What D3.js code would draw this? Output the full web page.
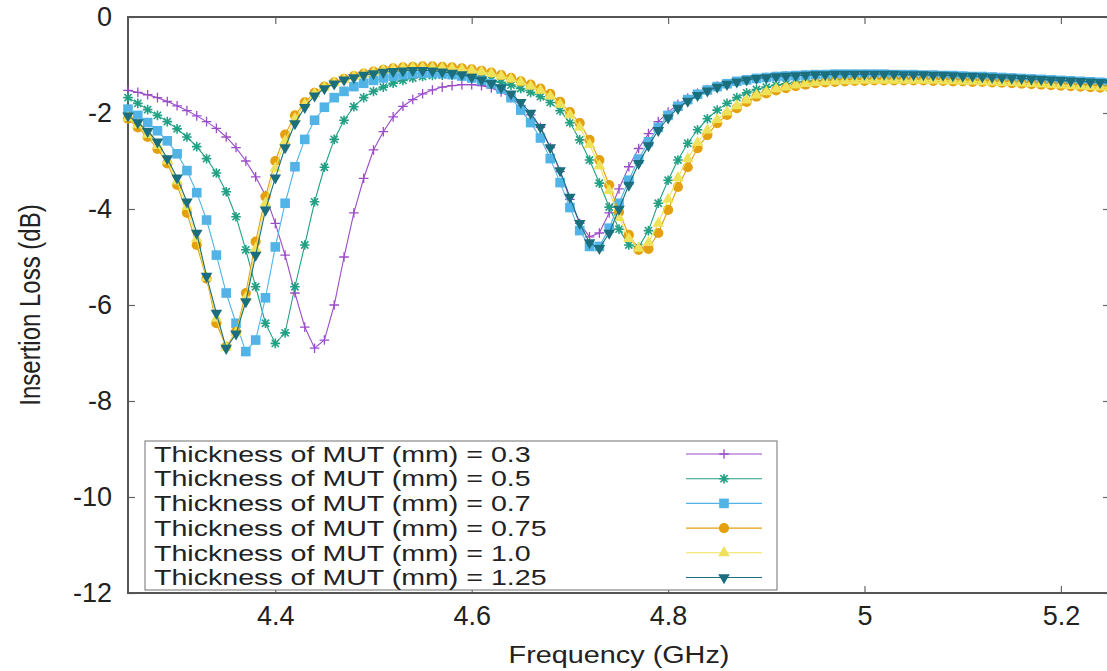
<!DOCTYPE html>
<html>
<head>
<meta charset="utf-8">
<script src="https://cdn.jsdelivr.net/npm/d3@7"></script>
<style>
  body { margin: 0; background: #fff; }
  text { font-family: "Liberation Sans", Arial, sans-serif; fill: #222; }
</style>
</head>
<body>
<div id="chart"></div>
<script>
var svgWidth = 1107;
var svgHeight = 671;

// frequency grid (GHz)
var freq = [
  4.25, 4.26, 4.27, 4.28, 4.29, 4.30, 4.31, 4.32, 4.33, 4.34,
  4.35, 4.36, 4.37, 4.38, 4.39, 4.40, 4.41, 4.42, 4.43, 4.44,
  4.45, 4.46, 4.47, 4.48, 4.49, 4.50, 4.51, 4.52, 4.53, 4.54,
  4.55, 4.56, 4.57, 4.58, 4.59, 4.60, 4.61, 4.62, 4.63, 4.64,
  4.65, 4.66, 4.67, 4.68, 4.69, 4.70, 4.71, 4.72, 4.73, 4.74,
  4.75, 4.76, 4.77, 4.78, 4.79, 4.80, 4.81, 4.82, 4.83, 4.84,
  4.85, 4.86, 4.87, 4.88, 4.89, 4.90, 4.91, 4.92, 4.93, 4.94,
  4.95, 4.96, 4.97, 4.98, 4.99, 5.00, 5.01, 5.02, 5.03, 5.04,
  5.05, 5.06, 5.07, 5.08, 5.09, 5.10, 5.11, 5.12, 5.13, 5.14,
  5.15, 5.16, 5.17, 5.18, 5.19, 5.20, 5.21, 5.22, 5.23, 5.24, 5.25
];

// insertion loss (dB) per MUT thickness
var loss03 = [
  -1.53, -1.57, -1.62, -1.68, -1.76, -1.85, -1.95, -2.06, -2.18, -2.32,
  -2.5, -2.72, -3.0, -3.33, -3.72, -4.3, -4.96, -5.75, -6.46, -6.9,
  -6.73, -6.0, -5.0, -4.08, -3.36, -2.77, -2.39, -2.08, -1.86, -1.72,
  -1.6, -1.52, -1.46, -1.43, -1.41, -1.41, -1.43, -1.48, -1.56, -1.68,
  -1.84, -2.04, -2.3, -2.72, -3.22, -3.8, -4.3, -4.58, -4.5, -4.08,
  -3.58, -3.12, -2.74, -2.43, -2.18, -1.98, -1.82, -1.69, -1.59, -1.51,
  -1.44, -1.39, -1.35, -1.31, -1.28, -1.26, -1.24, -1.23, -1.22, -1.21,
  -1.21, -1.21, -1.2, -1.2, -1.2, -1.2, -1.2, -1.2, -1.21, -1.21,
  -1.21, -1.22, -1.22, -1.23, -1.23, -1.24, -1.25, -1.25, -1.26, -1.27,
  -1.28, -1.29, -1.3, -1.31, -1.32, -1.33, -1.34, -1.35, -1.36, -1.37, -1.38
];
var loss05 = [
  -1.68, -1.8, -1.93, -2.05, -2.18, -2.33, -2.5, -2.7, -2.95, -3.25,
  -3.64, -4.16, -4.85, -5.62, -6.38, -6.8, -6.58, -5.62, -4.75, -3.85,
  -3.13, -2.55, -2.15, -1.87, -1.68, -1.55, -1.46, -1.38, -1.32, -1.27,
  -1.24, -1.22, -1.21, -1.21, -1.22, -1.24, -1.27, -1.31, -1.36, -1.42,
  -1.49, -1.57, -1.66, -1.78, -1.95, -2.2, -2.56, -2.98, -3.46, -3.96,
  -4.42, -4.75, -4.8, -4.45, -3.88, -3.4, -2.98, -2.63, -2.35, -2.12,
  -1.94, -1.8, -1.68, -1.58, -1.51, -1.46, -1.42, -1.39, -1.36, -1.34,
  -1.33, -1.32, -1.31, -1.3, -1.3, -1.29, -1.29, -1.29, -1.29, -1.29,
  -1.29, -1.3, -1.3, -1.31, -1.31, -1.32, -1.32, -1.33, -1.34, -1.35,
  -1.35, -1.36, -1.37, -1.38, -1.39, -1.4, -1.41, -1.42, -1.43, -1.44, -1.45
];
var loss07 = [
  -1.92, -2.05, -2.2, -2.37, -2.58, -2.85, -3.2, -3.66, -4.23, -4.96,
  -5.75, -6.38, -6.97, -6.73, -5.85, -4.79, -3.88, -3.12, -2.55, -2.15,
  -1.88, -1.68, -1.55, -1.45, -1.38, -1.32, -1.27, -1.23, -1.2, -1.18,
  -1.17, -1.17, -1.18, -1.2, -1.23, -1.27, -1.32, -1.39, -1.5, -1.68,
  -1.94, -2.2, -2.52, -2.95, -3.45, -3.97, -4.45, -4.78, -4.78, -4.4,
  -3.88, -3.4, -2.96, -2.6, -2.3, -2.05, -1.86, -1.72, -1.61, -1.52,
  -1.45, -1.39, -1.34, -1.31, -1.28, -1.26, -1.24, -1.23, -1.22, -1.21,
  -1.2, -1.2, -1.19, -1.19, -1.19, -1.19, -1.19, -1.19, -1.2, -1.2,
  -1.2, -1.21, -1.21, -1.22, -1.22, -1.23, -1.24, -1.24, -1.25, -1.26,
  -1.27, -1.28, -1.29, -1.3, -1.31, -1.32, -1.33, -1.34, -1.35, -1.36, -1.37
];
var loss075 = [
  -2.12, -2.3, -2.5, -2.75, -3.05, -3.5, -4.08, -4.75, -5.45, -6.38,
  -6.87, -6.56, -5.75, -4.68, -3.74, -3.0, -2.45, -2.05, -1.78, -1.58,
  -1.45, -1.36, -1.29, -1.23, -1.18, -1.14, -1.1, -1.07, -1.05, -1.04,
  -1.03, -1.03, -1.04, -1.05, -1.07, -1.09, -1.12, -1.16, -1.21, -1.27,
  -1.34, -1.41, -1.49, -1.6, -1.77, -1.98, -2.21, -2.56, -2.98, -3.5,
  -4.06, -4.54, -4.85, -4.83, -4.5, -4.02, -3.54, -3.13, -2.73, -2.46,
  -2.21, -2.04, -1.9, -1.77, -1.66, -1.59, -1.53, -1.48, -1.44, -1.41,
  -1.38, -1.36, -1.35, -1.34, -1.33, -1.33, -1.32, -1.32, -1.32, -1.32,
  -1.32, -1.32, -1.33, -1.33, -1.34, -1.34, -1.35, -1.35, -1.36, -1.37,
  -1.38, -1.39, -1.4, -1.41, -1.42, -1.43, -1.44, -1.45, -1.46, -1.47, -1.48
];
var loss10 = [
  -2.1, -2.25, -2.45, -2.68, -3.0, -3.42, -3.95, -4.62, -5.43, -6.28,
  -6.88, -6.58, -5.85, -4.82, -3.88, -3.15, -2.58, -2.12, -1.82, -1.6,
  -1.46, -1.37, -1.3, -1.24, -1.19, -1.15, -1.11, -1.08, -1.06, -1.05,
  -1.05, -1.05, -1.06, -1.07, -1.09, -1.11, -1.14, -1.18, -1.23, -1.29,
  -1.36, -1.44, -1.53, -1.65, -1.82, -2.04, -2.3, -2.66, -3.1, -3.62,
  -4.18, -4.62, -4.82, -4.7, -4.3, -3.8, -3.35, -2.95, -2.62, -2.36,
  -2.14, -1.98, -1.85, -1.73, -1.63, -1.56, -1.5, -1.46, -1.42, -1.39,
  -1.37, -1.35, -1.34, -1.33, -1.33, -1.32, -1.32, -1.32, -1.32, -1.32,
  -1.32, -1.32, -1.32, -1.33, -1.33, -1.34, -1.34, -1.35, -1.36, -1.37,
  -1.37, -1.38, -1.39, -1.4, -1.41, -1.42, -1.43, -1.44, -1.45, -1.46, -1.47
];
var loss125 = [
  -2.06, -2.2, -2.38, -2.6, -2.95, -3.35, -3.85, -4.5, -5.4, -6.17,
  -6.9, -6.6, -5.93, -4.96, -4.02, -3.35, -2.72, -2.22, -1.88, -1.64,
  -1.49, -1.39, -1.31, -1.26, -1.21, -1.18, -1.15, -1.13, -1.12, -1.11,
  -1.11, -1.12, -1.14, -1.17, -1.2, -1.25, -1.31, -1.38, -1.47, -1.6,
  -1.78, -2.0, -2.3, -2.72, -3.2, -3.75, -4.3, -4.7, -4.82, -4.5,
  -4.0, -3.5, -3.05, -2.68, -2.36, -2.1, -1.9, -1.75, -1.63, -1.54,
  -1.46, -1.4, -1.35, -1.31, -1.28, -1.26, -1.24, -1.23, -1.22, -1.21,
  -1.2, -1.2, -1.19, -1.19, -1.19, -1.19, -1.19, -1.19, -1.19, -1.2,
  -1.2, -1.2, -1.21, -1.21, -1.22, -1.23, -1.23, -1.24, -1.25, -1.26,
  -1.27, -1.28, -1.29, -1.3, -1.31, -1.32, -1.33, -1.34, -1.35, -1.36, -1.37
];

var seriesNames = [
  "Thickness of MUT (mm) = 0.3",
  "Thickness of MUT (mm) = 0.5",
  "Thickness of MUT (mm) = 0.7",
  "Thickness of MUT (mm) = 0.75",
  "Thickness of MUT (mm) = 1.0",
  "Thickness of MUT (mm) = 1.25"
];
var seriesValues = [loss03, loss05, loss07, loss075, loss10, loss125];
var seriesColors = ["#9a4cc8", "#22a084", "#52b4e6", "#e4a00e", "#eee25a", "#1b6e7c"];
var seriesMarks = ["plus", "star", "square", "circle", "triUp", "triDown"];

var xTicks = [4.4, 4.6, 4.8, 5, 5.2];
var yTicks = [0, -2, -4, -6, -8, -10, -12];

///////////////////////////////////////////////////////////////////////

var plot = { left: 128, right: 1110, top: 17, bottom: 593 };
var stretch = 1.2;   // labels in the source look a little wide

var svg = d3.select("#chart")
  .append("svg")
  .attr("width", svgWidth)
  .attr("height", svgHeight);

var xScale = d3.scaleLinear()
  .domain([4.25, 5.25])
  .range([plot.left, plot.right]);

var yScale = d3.scaleLinear()
  .domain([-12, 0])
  .range([plot.bottom, plot.top]);

// axes, ticks pointing inward, mirrored on top and right
var xAxis = d3.axisBottom(xScale).tickValues(xTicks).tickSize(-7).tickSizeOuter(0)
  .tickPadding(13).tickFormat(d => String(d));
var xAxisTop = d3.axisTop(xScale).tickValues(xTicks).tickSize(-7).tickSizeOuter(0)
  .tickFormat("");
var yAxis = d3.axisLeft(yScale).tickValues(yTicks).tickSize(-7).tickSizeOuter(0)
  .tickPadding(16).tickFormat(d => String(d));
var yAxisRight = d3.axisRight(yScale).tickValues(yTicks).tickSize(-7).tickSizeOuter(0)
  .tickFormat("");

function styleAxis(g) {
  g.select(".domain").remove();
  g.selectAll(".tick line").attr("stroke", "#666").attr("stroke-width", 1.2);
  g.selectAll(".tick text")
    .attr("font-size", 27)
    .attr("fill", "#222");
}

svg.append("g").attr("transform", `translate(0, ${plot.bottom})`).call(xAxis).call(styleAxis);
svg.append("g").attr("transform", `translate(0, ${plot.top})`).call(xAxisTop).call(styleAxis);
svg.append("g").attr("transform", `translate(${plot.left}, 0)`).call(yAxis).call(styleAxis);
svg.append("g").attr("transform", `translate(${plot.right}, 0)`).call(yAxisRight).call(styleAxis);

svg.append("rect")
  .attr("x", plot.left).attr("y", plot.top)
  .attr("width", plot.right - plot.left).attr("height", plot.bottom - plot.top)
  .attr("fill", "none").attr("stroke", "#555").attr("stroke-width", 2);

svg.append("text")
  .attr("transform", `translate(${(plot.left + plot.right) / 2}, 663) scale(${stretch}, 1)`)
  .attr("text-anchor", "middle").attr("font-size", 24)
  .text("Frequency (GHz)");

svg.append("text")
  .attr("transform", `translate(40, ${(plot.top + plot.bottom) / 2}) rotate(-90) scale(1, ${stretch})`)
  .attr("text-anchor", "middle").attr("font-size", 24)
  .text("Insertion Loss (dB)");

///////////////////////////////////////////////////////////////////////

// gnuplot-like point types
function drawMark(g, type, color, cx, cy) {
  if (type === "plus") {
    g.append("path").attr("d", `M${cx - 4.8},${cy}H${cx + 4.8}M${cx},${cy - 4.8}V${cy + 4.8}`)
      .attr("stroke", color).attr("stroke-width", 1.3).attr("fill", "none");
  } else if (type === "star") {
    g.append("path").attr("d", `M${cx - 4.8},${cy}H${cx + 4.8}M${cx},${cy - 4.8}V${cy + 4.8}` +
        `M${cx - 3.6},${cy - 3.6}L${cx + 3.6},${cy + 3.6}M${cx - 3.6},${cy + 3.6}L${cx + 3.6},${cy - 3.6}`)
      .attr("stroke", color).attr("stroke-width", 1.6).attr("fill", "none");
  } else if (type === "square") {
    g.append("rect").attr("x", cx - 4.8).attr("y", cy - 4.8).attr("width", 9.6).attr("height", 9.6)
      .attr("fill", color);
  } else if (type === "circle") {
    g.append("circle").attr("cx", cx).attr("cy", cy).attr("r", 5.1).attr("fill", color);
  } else if (type === "triUp") {
    g.append("path").attr("d", d3.symbol(d3.symbolTriangle, 58)())
      .attr("transform", `translate(${cx}, ${cy})`).attr("fill", color);
  } else if (type === "triDown") {
    g.append("path").attr("d", d3.symbol(d3.symbolTriangle, 58)())
      .attr("transform", `translate(${cx}, ${cy}) rotate(180)`).attr("fill", color);
  }
}

var line = d3.line()
  .x((d, i) => xScale(freq[i]))
  .y(d => yScale(d));

var plotGroup = svg.append("g");

seriesValues.forEach(function(vals, k) {
  var g = plotGroup.append("g");
  g.append("path")
    .datum(vals)
    .attr("d", line)
    .attr("fill", "none")
    .attr("stroke", seriesColors[k])
    .attr("stroke-width", 1.1);
  vals.forEach(function(v, i) {
    drawMark(g, seriesMarks[k], seriesColors[k], xScale(freq[i]), yScale(v));
  });
});

///////////////////////////////////////////////////////////////////////

// legend
var legend = svg.append("g");
legend.append("rect")
  .attr("x", 145).attr("y", 441).attr("width", 632).attr("height", 149)
  .attr("fill", "#fff").attr("stroke", "#888").attr("stroke-width", 1.2);

seriesNames.forEach(function(name, k) {
  var cy = 454 + k * 24.7;
  legend.append("text")
    .attr("transform", `translate(154, ${cy}) scale(1.3, 1)`)
    .attr("dominant-baseline", "central")
    .attr("font-size", 22)
    .text(name);
  legend.append("line")
    .attr("x1", 686).attr("x2", 762).attr("y1", cy).attr("y2", cy)
    .attr("stroke", seriesColors[k]).attr("stroke-width", 1.1);
  drawMark(legend, seriesMarks[k], seriesColors[k], 724, cy);
});
</script>
</body>
</html>
